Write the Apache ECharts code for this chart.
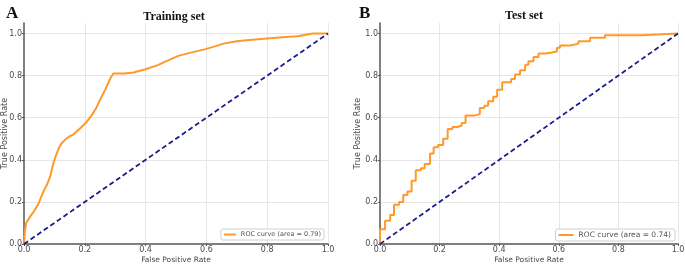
<!DOCTYPE html>
<html>
<head>
<meta charset="utf-8">
<script src="https://cdn.jsdelivr.net/npm/echarts@6/dist/echarts.min.js"></script>
<style>
  html, body { margin: 0; padding: 0; background: #fff; }
  #chart { width: 685px; height: 266px; }
</style>
</head>
<body>
<div id="chart"></div>
<script>
const panelTitles = ['Training set', 'Test set'];
const panelLetters = ['A', 'B'];
const legendNames = ['ROC curve (area = 0.79)', 'ROC curve (area = 0.74)'];
const tickValues = [0, 0.2, 0.4, 0.6, 0.8, 1.0];

const trainFpr = [0, 0.003, 0.007, 0.02, 0.035, 0.047, 0.064, 0.075, 0.086, 0.096, 0.105, 0.113, 0.122, 0.135, 0.148, 0.162, 0.185, 0.206, 0.222, 0.239, 0.252, 0.266, 0.285, 0.294, 0.33, 0.36, 0.40, 0.44, 0.47, 0.51, 0.546, 0.60, 0.63, 0.656, 0.70, 0.75, 0.80, 0.85, 0.90, 0.95, 1.0];
const trainTpr = [0, 0.06, 0.10, 0.13, 0.16, 0.19, 0.25, 0.28, 0.32, 0.38, 0.42, 0.45, 0.475, 0.495, 0.51, 0.52, 0.55, 0.58, 0.61, 0.65, 0.69, 0.73, 0.79, 0.81, 0.81, 0.815, 0.83, 0.85, 0.87, 0.895, 0.908, 0.927, 0.94, 0.952, 0.963, 0.97, 0.976, 0.982, 0.987, 1.0, 1.0];

const testFpr = [0, 0, 0.017, 0.034, 0.047, 0.064, 0.078, 0.092, 0.106, 0.12, 0.137, 0.15, 0.168, 0.18, 0.195, 0.212, 0.227, 0.243, 0.26, 0.274, 0.287, 0.316, 0.335, 0.35, 0.363, 0.38, 0.393, 0.41, 0.44, 0.453, 0.47, 0.487, 0.498, 0.515, 0.532, 0.555, 0.577, 0.594, 0.604, 0.638, 0.666, 0.705, 0.755, 0.878, 1.0];
const testTpr = [0, 0.07, 0.11, 0.138, 0.186, 0.20, 0.233, 0.25, 0.30, 0.35, 0.36, 0.38, 0.43, 0.46, 0.47, 0.50, 0.546, 0.556, 0.563, 0.575, 0.61, 0.617, 0.646, 0.657, 0.678, 0.70, 0.733, 0.768, 0.784, 0.805, 0.825, 0.852, 0.868, 0.889, 0.905, 0.91, 0.916, 0.932, 0.943, 0.952, 0.963, 0.98, 0.992, 1.0, 1.0];

const chanceX = [0, 1];
const chanceY = [0, 1];

const pairs = (xs, ys) => xs.map((x, i) => [x, ys[i]]);

const orange = '#ff9a2a';
const navy = '#1c1c8f';
const axisColor = '#555';
const labelFont = 'DejaVu Sans';
const serif = 'Liberation Serif';

const grids = [
  { left: 24, top: 23, width: 304, height: 221, outerBoundsMode: 'none' },
  { left: 380, top: 23, width: 298, height: 221, outerBoundsMode: 'none' }
];

const fmt = (v) => {
  const isTick = tickValues.some((t) => Math.abs(t - v) < 1e-6);
  return isTick ? v.toFixed(1) : '';
};

const makeX = (gi) => ({
  type: 'value',
  gridIndex: gi,
  min: 0,
  max: 1,
  interval: 0.2,
  name: 'False Positive Rate',
  nameLocation: 'middle',
  nameGap: 12,
  nameMoveOverlap: false,
  nameTextStyle: { color: '#4a4a4a', fontFamily: labelFont, fontSize: 7.5 },
  axisLine: { show: true, lineStyle: { color: axisColor, width: 1.5 } },
  axisTick: { show: true, length: 2, lineStyle: { color: axisColor } },
  axisLabel: { color: '#4a4a4a', fontFamily: labelFont, fontSize: 8, margin: 2, formatter: fmt },
  splitLine: { show: true, lineStyle: { color: '#e6e6e6', width: 1 }, showMinLine: false }
});

const makeY = (gi, gap) => ({
  type: 'value',
  gridIndex: gi,
  min: 0,
  max: 1.05,
  interval: 0.2,
  name: 'True Positive Rate',
  nameLocation: 'middle',
  nameGap: gap,
  nameRotate: 90,
  nameMoveOverlap: false,
  nameTextStyle: { color: '#4a4a4a', fontFamily: labelFont, fontSize: 8 },
  axisLine: { show: true, lineStyle: { color: axisColor, width: 1.5 } },
  axisTick: { show: true, length: 2, lineStyle: { color: axisColor } },
  axisLabel: { color: '#4a4a4a', fontFamily: labelFont, fontSize: 8, margin: 2, formatter: fmt, showMaxLabel: false },
  splitLine: { show: true, lineStyle: { color: '#e6e6e6', width: 1 }, showMinLine: false, showMaxLine: false }
});

const chart = echarts.init(document.getElementById('chart'), null, { renderer: 'canvas' });

chart.setOption({
  animation: false,
  backgroundColor: '#fff',
  title: [
    { text: panelTitles[0], left: 169, top: 6, textAlign: 'center',
      textStyle: { fontFamily: serif, fontWeight: 'bold', fontSize: 12, color: '#111' } },
    { text: panelTitles[1], left: 519, top: 5, textAlign: 'center',
      textStyle: { fontFamily: serif, fontWeight: 'bold', fontSize: 12, color: '#111' } },
    { text: panelLetters[0], left: 1, top: 0,
      textStyle: { fontFamily: serif, fontWeight: 'bold', fontSize: 17, color: '#111' } },
    { text: panelLetters[1], left: 354, top: 0,
      textStyle: { fontFamily: serif, fontWeight: 'bold', fontSize: 17, color: '#111' } }
  ],
  legend: [
    { data: [legendNames[0]], right: 361, top: 229, orient: 'vertical',
      itemWidth: 12, itemHeight: 2, itemGap: 0, padding: [2, 3, 2, 3],
      borderColor: '#d0d0d0', borderWidth: 1, borderRadius: 2, backgroundColor: '#fff',
      icon: 'rect', textStyle: { fontFamily: labelFont, fontSize: 6.5, color: '#555' } },
    { data: [legendNames[1]], right: 10, top: 229, orient: 'vertical',
      itemWidth: 15, itemHeight: 2, itemGap: 0, padding: [2, 4, 2, 3],
      borderColor: '#d0d0d0', borderWidth: 1, borderRadius: 2, backgroundColor: '#fff',
      icon: 'rect', textStyle: { fontFamily: labelFont, fontSize: 7.5, color: '#555' } }
  ],
  grid: grids,
  xAxis: [makeX(0), makeX(1)],
  yAxis: [makeY(0, 15), makeY(1, 18)],
  series: [
    { name: legendNames[0], type: 'line', xAxisIndex: 0, yAxisIndex: 0,
      data: pairs(trainFpr, trainTpr), showSymbol: false, symbol: 'none',
      itemStyle: { color: orange }, lineStyle: { color: orange, width: 2 } },
    { name: 'chance0', type: 'line', xAxisIndex: 0, yAxisIndex: 0,
      data: pairs(chanceX, chanceY), showSymbol: false, symbol: 'none',
      lineStyle: { color: navy, width: 1.8, type: [5, 3] } },
    { name: legendNames[1], type: 'line', xAxisIndex: 1, yAxisIndex: 1, step: 'end',
      data: pairs(testFpr, testTpr), showSymbol: false, symbol: 'none',
      itemStyle: { color: orange }, lineStyle: { color: orange, width: 2 } },
    { name: 'chance1', type: 'line', xAxisIndex: 1, yAxisIndex: 1,
      data: pairs(chanceX, chanceY), showSymbol: false, symbol: 'none',
      lineStyle: { color: navy, width: 1.8, type: [5, 3] } }
  ]
});
</script>
</body>
</html>
